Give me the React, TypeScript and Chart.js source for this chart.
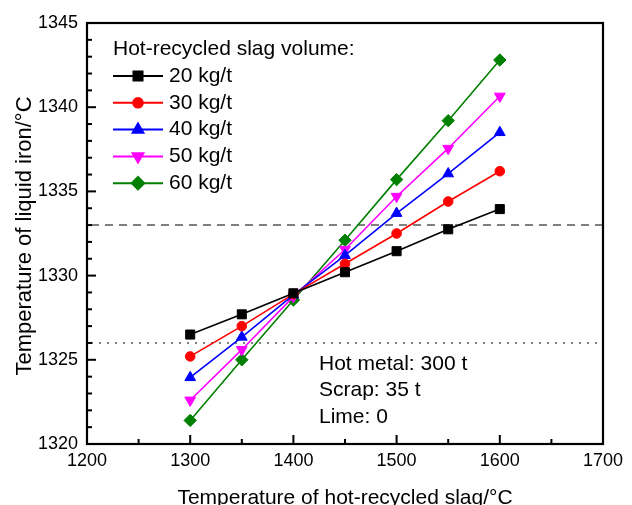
import { useEffect, useRef } from 'react';
import { Chart, registerables } from 'chart.js';
import { drawPoint } from 'chart.js/helpers';

Chart.register(...registerables);

// Slag temperature (°C) on the x axis
const slagTemps = [1300, 1350, 1400, 1450, 1500, 1550, 1600];

// Liquid iron temperature (°C) for each hot-recycled slag volume
const iron20 = [1326.5, 1327.7, 1328.95, 1330.2, 1331.45, 1332.75, 1333.95];
const iron30 = [1325.2, 1327.0, 1328.9, 1330.7, 1332.5, 1334.4, 1336.2];
const iron40 = [1323.95, 1326.35, 1328.85, 1331.2, 1333.7, 1336.05, 1338.5];
const iron50 = [1322.6, 1325.6, 1328.75, 1331.55, 1334.7, 1337.55, 1340.65];
const iron60 = [1321.4, 1325.0, 1328.55, 1332.1, 1335.7, 1339.2, 1342.8];

const seriesLabels = ['20 kg/t', '30 kg/t', '40 kg/t', '50 kg/t', '60 kg/t'];
const seriesValues = [iron20, iron30, iron40, iron50, iron60];
const seriesColors = ['#000000', '#ff0000', '#0000ff', '#ff00ff', '#008000'];
const seriesMarkers = ['rect', 'circle', 'triangle', 'triangle', 'rectRot'];
const markerSizes = [6.4, 4.8, 6.2, 6.2, 6.2];
const markerRotations = [0, 0, 0, 180, 0];

// Horizontal guide lines (°C): dashed upper, dotted lower
const guideUpper = 1333;
const guideLower = 1326;

const legendTitle = 'Hot-recycled slag volume:';
const noteLines = ['Hot metal: 300 t', 'Scrap: 35 t', 'Lime: 0'];
const xTitle = 'Temperature of hot-recycled slag/°C';
const yTitle = 'Temperature of liquid iron/°C';

const xRange = [1200, 1700];
const yRange = [1320, 1345];

const FONT = '"Liberation Sans", Arial, Helvetica, sans-serif';

const decorPlugin = {
  id: 'decor',
  beforeDatasetsDraw(chart: any) {
    const { ctx, chartArea: a, scales } = chart;
    const y = scales.y;
    ctx.save();
    ctx.strokeStyle = '#808080';
    ctx.lineWidth = 2;
    ctx.setLineDash([8, 6]);
    let py = Math.round(y.getPixelForValue(guideUpper));
    ctx.beginPath();
    ctx.moveTo(a.left + 4, py);
    ctx.lineTo(a.right, py);
    ctx.stroke();
    ctx.setLineDash([2, 6]);
    py = Math.round(y.getPixelForValue(guideLower));
    ctx.beginPath();
    ctx.moveTo(a.left + 4, py);
    ctx.lineTo(a.right, py);
    ctx.stroke();
    ctx.restore();
  },
  afterDraw(chart: any) {
    const { ctx, chartArea: a, scales } = chart;
    const x = scales.x;
    const y = scales.y;
    ctx.save();

    // frame
    ctx.strokeStyle = '#000';
    ctx.lineWidth = 2.2;
    ctx.setLineDash([]);
    ctx.strokeRect(a.left, a.top, a.right - a.left, a.bottom - a.top);

    // inward ticks on left axis
    ctx.lineWidth = 2;
    for (let v = yRange[0]; v <= yRange[1]; v += 1) {
      const p = y.getPixelForValue(v);
      const len = v % 5 === 0 ? 9 : 5;
      ctx.beginPath();
      ctx.moveTo(a.left, p);
      ctx.lineTo(a.left + len, p);
      ctx.stroke();
    }
    // inward ticks on bottom axis
    for (let v = xRange[0]; v <= xRange[1]; v += 50) {
      const p = x.getPixelForValue(v);
      const len = v % 100 === 0 ? 9 : 5;
      ctx.beginPath();
      ctx.moveTo(p, a.bottom);
      ctx.lineTo(p, a.bottom - len);
      ctx.stroke();
    }

    // legend
    ctx.fillStyle = '#000';
    ctx.font = `21px ${FONT}`;
    ctx.textBaseline = 'middle';
    ctx.textAlign = 'left';
    ctx.fillText(legendTitle, 113, 49);
    chart.data.datasets.forEach((ds: any, i: number) => {
      const cy = 76 + i * 26.8;
      ctx.strokeStyle = ds.borderColor;
      ctx.lineWidth = 2;
      ctx.beginPath();
      ctx.moveTo(113, cy);
      ctx.lineTo(163, cy);
      ctx.stroke();
      ctx.fillStyle = ds.backgroundColor;
      drawPoint(ctx, {
        pointStyle: ds.pointStyle,
        radius: ds.pointRadius,
        rotation: ds.pointRotation,
        borderWidth: 1,
      }, 138, cy);
      ctx.fillStyle = '#000';
      ctx.fillText(ds.label, 169, cy);
    });

    // condition notes
    noteLines.forEach((t, i) => {
      ctx.fillText(t, 319, 364 + i * 26.5);
    });

    // axis titles
    ctx.font = `21px ${FONT}`;
    ctx.textAlign = 'center';
    ctx.textBaseline = 'alphabetic';
    ctx.fillText(xTitle, (a.left + a.right) / 2, 504);
    ctx.translate(31, 236);
    ctx.rotate(-Math.PI / 2);
    ctx.font = `22px ${FONT}`;
    ctx.fillText(yTitle, 0, 0);
    ctx.restore();
  },
};

export default function App() {
  const canvasRef = useRef<HTMLCanvasElement | null>(null);

  useEffect(() => {
    const canvas = canvasRef.current;
    if (!canvas) return;
    const chart = new Chart(canvas, {
      type: 'scatter',
      data: {
        datasets: seriesValues.map((vals, i) => ({
          label: seriesLabels[i],
          data: slagTemps.map((t, j) => ({ x: t, y: vals[j] })),
          showLine: true,
          borderColor: seriesColors[i],
          backgroundColor: seriesColors[i],
          borderWidth: 1.6,
          pointStyle: seriesMarkers[i] as any,
          pointRadius: markerSizes[i],
          pointRotation: markerRotations[i],
          pointBorderWidth: 1,
          pointHoverRadius: markerSizes[i],
        })),
      },
      options: {
        animation: false,
        responsive: false,
        devicePixelRatio: 1,
        layout: { padding: { top: 23, right: 29, left: 0, bottom: 0 } },
        plugins: {
          legend: { display: false },
          tooltip: { enabled: false },
        },
        scales: {
          x: {
            type: 'linear',
            min: xRange[0],
            max: xRange[1],
            ticks: {
              stepSize: 100,
              color: '#000',
              font: { family: FONT, size: 18 },
              padding: 6,
              maxRotation: 0,
              callback: (v: any) => String(v),
            },
            grid: { display: false, drawTicks: false },
            border: { display: false },
            afterFit: (s: any) => { s.height = 61; },
          },
          y: {
            type: 'linear',
            min: yRange[0],
            max: yRange[1],
            ticks: {
              stepSize: 5,
              color: '#000',
              font: { family: FONT, size: 18 },
              padding: 9,
              callback: (v: any) => String(v),
            },
            grid: { display: false, drawTicks: false },
            border: { display: false },
            afterFit: (s: any) => { s.width = 87; },
          },
        },
      },
      plugins: [decorPlugin],
    });
    return () => chart.destroy();
  }, []);

  return (
    <div style={{ position: 'fixed', left: 0, top: 0, width: 632, height: 505, background: '#fff' }}>
      <canvas ref={canvasRef} width={632} height={505} />
    </div>
  );
}
